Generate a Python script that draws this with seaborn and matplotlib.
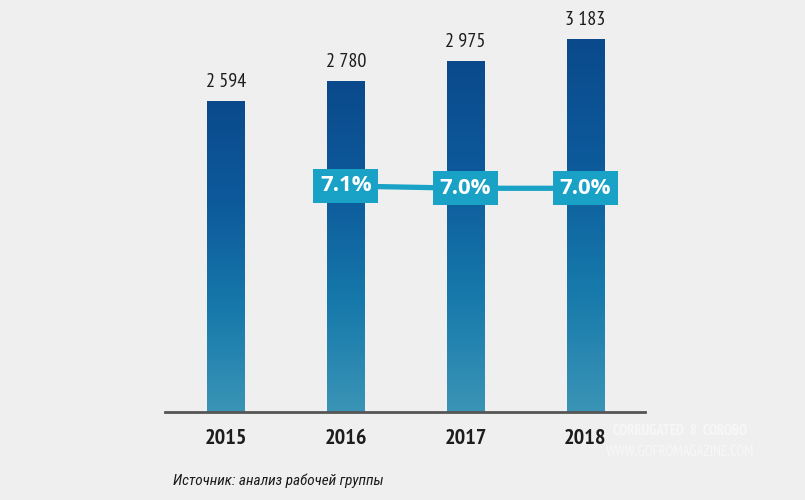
import numpy as np
import matplotlib
matplotlib.use("Agg")
import matplotlib.pyplot as plt
import seaborn as sns
from matplotlib import font_manager
from matplotlib.colors import LinearSegmentedColormap

# данные
years = ["2015", "2016", "2017", "2018"]
sales = [2594, 2780, 2975, 3183]
growth_years = ["2016", "2017", "2018"]
growth = [7.1, 7.0, 7.0]
growth_labels = ["7.1%", "7.0%", "7.0%"]
value_labels = ["2 594", "2 780", "2 975", "3 183"]
source = "Источник: анализ рабочей группы"

sns.set_theme(style="white")

# узкий шрифт с кириллицей
fonts = font_manager.fontManager.ttflist
names = {f.name for f in fonts}
narrow = "DejaVu Sans"
for cand in ["PT Sans Narrow", "Roboto Condensed", "Fira Sans Condensed",
             "IBM Plex Sans Condensed", "Open Sans Condensed"]:
    if cand in names:
        narrow = cand
        break
# для подписи источника нужен курсив
italic_font = "DejaVu Sans"
for cand in ["Roboto Condensed", "Fira Sans Condensed", "IBM Plex Sans Condensed",
             "Open Sans Condensed", "PT Sans Narrow"]:
    if any(f.name == cand and f.style == "italic" for f in fonts):
        italic_font = cand
        break
plt.rcParams["font.family"] = [narrow, "DejaVu Sans"]
label_font = [f for f in ["Open Sans", "Roboto", "DejaVu Sans"] if f in names][:1] + ["DejaVu Sans"]

bg = "#efefef"
teal = "#1aa2c6"
dark = "#1c1c1c"

fig = plt.figure(figsize=(8.05, 5), dpi=100, facecolor=bg)
ax = fig.add_axes([165 / 805, 88 / 500, 480 / 805, 412 / 500])
ax.set_facecolor("none")

sns.barplot(x=years, y=sales, width=0.31, color="#0a4a8c", ax=ax)

base = -360
cmap = LinearSegmentedColormap.from_list("bar", ["#3a94b6", "#1679ab", "#0d5a9b", "#0a4a8c"])
grad = np.linspace(0, 1, 256).reshape(-1, 1)
for p, v, lab in zip(ax.patches, sales, value_labels):
    p.set_y(base)
    p.set_height(v - base)
    p.set_facecolor("none")
    p.set_edgecolor("none")
    x0 = p.get_x()
    w = p.get_width()
    im = ax.imshow(grad, cmap=cmap, origin="lower", aspect="auto",
                   extent=[x0, x0 + w, base, v], zorder=2)
    im.set_clip_path(p)
    ax.text(x0 + w / 2, v + 95, lab, ha="center", va="bottom",
            fontsize=14.5, color=dark)

ax.set_xlim(-0.51, 3.5)
ax.set_ylim(base, 3553)

for s in ["top", "right", "left"]:
    ax.spines[s].set_visible(False)
ax.spines["bottom"].set_color("#555555")
ax.spines["bottom"].set_linewidth(2)
ax.set_yticks([])
ax.tick_params(axis="x", length=0, pad=12)
for t in ax.get_xticklabels():
    t.set_fontsize(16)
    t.set_fontweight("bold")
    t.set_color(dark)
ax.set_xlabel("")
ax.set_ylabel("")

# линия роста
ax2 = ax.twinx()
gx = [years.index(y) for y in growth_years]
sns.lineplot(x=gx, y=growth, color=teal, linewidth=3.8, ax=ax2, zorder=3)
ax2.set_ylim(-2.72, 15.18)
ax2.set_xlim(-0.51, 3.5)
ax2.axis("off")
for x, g, lab in zip(gx, growth, growth_labels):
    ax2.text(x, g, lab, ha="center", va="center", fontsize=16,
             fontweight="bold", color="white", zorder=4, family=label_font,
             bbox=dict(boxstyle="square,pad=0.3", fc=teal, ec="none"))

fig.text(173 / 805, 1 - 481 / 500, source, fontsize=11, style="italic",
         color=dark, va="center", ha="left", family=[italic_font, "DejaVu Sans"])

# водяной знак
fig.text(680 / 805, 1 - 431 / 500, "CORRUGATED  8  COROBO", fontsize=10.5,
         color="white", alpha=0.5, ha="center", va="center", fontweight="bold")
fig.text(680 / 805, 1 - 452 / 500, "WWW.GOFROMAGAZINE.COM", fontsize=10.5,
         color="white", alpha=0.5, ha="center", va="center")

fig.savefig("out.png", dpi=100, facecolor=bg)
